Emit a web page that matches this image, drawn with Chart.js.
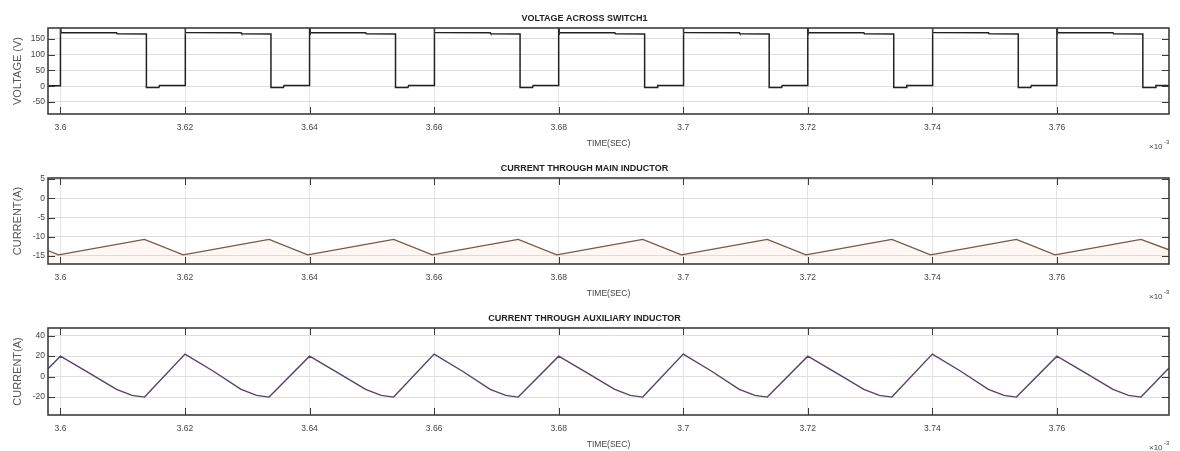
<!DOCTYPE html>
<html>
<head>
<meta charset="utf-8">
<script src="https://cdn.jsdelivr.net/npm/chart.js@4/dist/chart.umd.min.js"></script>
<style>
  html, body { margin: 0; padding: 0; background: #ffffff; }
  #wrap { position: relative; width: 1180px; height: 451px; background: #ffffff; }
  canvas { position: absolute; left: 0; }
</style>
</head>
<body>
<div id="wrap">
  <canvas id="c1" width="1180" height="150" style="top:0px"></canvas>
  <canvas id="c2" width="1180" height="150" style="top:150px"></canvas>
  <canvas id="c3" width="1180" height="151" style="top:300px"></canvas>
</div>
<script>
// ---------- data ----------
const xTickValues = [3.6, 3.62, 3.64, 3.66, 3.68, 3.7, 3.72, 3.74, 3.76];
const xTickLabels = ['3.6', '3.62', '3.64', '3.66', '3.68', '3.7', '3.72', '3.74', '3.76'];
const voltTicks = [-50, 0, 50, 100, 150];
const mainTicks = [-15, -10, -5, 0, 5];
const auxTicks = [-20, 0, 20, 40];

const voltTime = [3.598,
  3.6, 3.6, 3.6001, 3.609, 3.6091, 3.6138, 3.6138, 3.6158, 3.6159,
  3.62, 3.62, 3.6201, 3.629, 3.6291, 3.6338, 3.6338, 3.6358, 3.6359,
  3.64, 3.64, 3.6401, 3.649, 3.6491, 3.6538, 3.6538, 3.6558, 3.6559,
  3.66, 3.66, 3.6601, 3.669, 3.6691, 3.6738, 3.6738, 3.6758, 3.6759,
  3.68, 3.68, 3.6801, 3.689, 3.6891, 3.6938, 3.6938, 3.6958, 3.6959,
  3.7, 3.7, 3.7001, 3.709, 3.7091, 3.7138, 3.7138, 3.7158, 3.7159,
  3.72, 3.72, 3.7201, 3.729, 3.7291, 3.7338, 3.7338, 3.7358, 3.7359,
  3.74, 3.74, 3.7401, 3.749, 3.7491, 3.7538, 3.7538, 3.7558, 3.7559,
  3.76, 3.76, 3.7601, 3.769, 3.7691, 3.7738, 3.7738, 3.7758, 3.7759,
  3.778];
const voltValues = [1,
  1, 190, 170, 169, 166, 165, -4, -4, 2,
  2, 190, 170, 169, 166, 165, -4, -4, 2,
  2, 190, 170, 169, 166, 165, -4, -4, 2,
  2, 190, 170, 169, 166, 165, -4, -4, 2,
  2, 190, 170, 169, 166, 165, -4, -4, 2,
  2, 190, 170, 169, 166, 165, -4, -4, 2,
  2, 190, 170, 169, 166, 165, -4, -4, 2,
  2, 190, 170, 169, 166, 165, -4, -4, 2,
  2, 190, 170, 169, 166, 165, -4, -4, 2,
  2];

const mainTime = [3.598, 3.5997, 3.6135, 3.6197, 3.6335, 3.6397, 3.6535, 3.6597, 3.6735, 3.6797,
  3.6935, 3.6997, 3.7135, 3.7197, 3.7335, 3.7397, 3.7535, 3.7597, 3.7735, 3.778];
const mainValues = [-13.6, -14.7, -10.7, -14.7, -10.7, -14.7, -10.7, -14.7, -10.7, -14.7,
  -10.7, -14.7, -10.7, -14.7, -10.7, -14.7, -10.7, -14.7, -10.7, -13.4];

const auxTime = [3.598,
  3.6, 3.6045, 3.609, 3.6115, 3.6135,
  3.62, 3.6245, 3.629, 3.6315, 3.6335,
  3.64, 3.6445, 3.649, 3.6515, 3.6535,
  3.66, 3.6645, 3.669, 3.6715, 3.6735,
  3.68, 3.6845, 3.689, 3.6915, 3.6935,
  3.7, 3.7045, 3.709, 3.7115, 3.7135,
  3.72, 3.7245, 3.729, 3.7315, 3.7335,
  3.74, 3.7445, 3.749, 3.7515, 3.7535,
  3.76, 3.7645, 3.769, 3.7715, 3.7735,
  3.778];
const auxValues = [7.7,
  20, 4, -12.5, -18.3, -20,
  22, 5.5, -12.5, -18.3, -20,
  20, 4, -12.5, -18.3, -20,
  22, 5.5, -12.5, -18.3, -20,
  20, 4, -12.5, -18.3, -20,
  22, 5.5, -12.5, -18.3, -20,
  20, 4, -12.5, -18.3, -20,
  22, 5.5, -12.5, -18.3, -20,
  20, 4, -12.5, -18.3, -20,
  8.5];

// ---------- styling / helpers ----------
const FONT = "'Liberation Sans', Arial, sans-serif";
Chart.defaults.font.family = FONT;
Chart.defaults.color = '#333333';

const matlabBox = {
  id: 'matlabBox',
  afterDatasetsDraw(chart) {
    const { ctx, chartArea: { left, right, top, bottom }, scales: { x, y } } = chart;
    ctx.save();
    ctx.strokeStyle = '#3a3a3a';
    ctx.lineWidth = 1;
    ctx.beginPath();
    x.ticks.forEach(t => {
      const px = Math.round(x.getPixelForValue(t.value)) + 0.5;
      ctx.moveTo(px, bottom); ctx.lineTo(px, bottom - 7);
      ctx.moveTo(px, top); ctx.lineTo(px, top + 7);
    });
    y.ticks.forEach(t => {
      const py = Math.round(y.getPixelForValue(t.value)) + 0.5;
      ctx.moveTo(left, py); ctx.lineTo(left + 7, py);
      ctx.moveTo(right, py); ctx.lineTo(right - 7, py);
    });
    ctx.stroke();
    ctx.lineWidth = 1.6;
    ctx.strokeStyle = '#3c3c3c';
    ctx.strokeRect(left, top, right - left, bottom - top);
    // exponent label
    ctx.fillStyle = '#444444';
    ctx.textBaseline = 'middle';
    ctx.textAlign = 'left';
    ctx.font = '8px ' + FONT;
    ctx.fillText('\u00d710', 1149, bottom + 33);
    ctx.font = '6px ' + FONT;
    ctx.fillText('-3', 1164, bottom + 28);
    ctx.restore();
  }
};

function makeChart(id, title, yTitle, time, values, color, width, yMin, yMax, yTicks, fillColor) {
  const data = time.map((t, i) => ({ x: t, y: values[i] }));
  return new Chart(document.getElementById(id), {
    type: 'line',
    data: {
      datasets: [{
        data: data,
        borderColor: color,
        borderWidth: width,
        pointRadius: 0,
        tension: 0,
        fill: fillColor ? 'start' : false,
        backgroundColor: fillColor || 'transparent'
      }]
    },
    options: {
      responsive: false,
      animation: false,
      events: [],
      layout: { padding: { left: 0, right: 11, top: 0, bottom: 0 } },
      plugins: {
        legend: { display: false },
        tooltip: { enabled: false },
        title: {
          display: true,
          text: title,
          color: '#222222',
          font: { size: 9, weight: 'bold', lineHeight: 1.2 },
          padding: { top: 13.6, bottom: 3.6 }
        }
      },
      scales: {
        x: {
          type: 'linear',
          min: 3.598,
          max: 3.778,
          afterBuildTicks: (s) => { s.ticks = xTickValues.map(v => ({ value: v })); },
          afterFit: (s) => { s.height = 36; },
          ticks: {
            padding: 9,
            color: '#444444',
            font: { size: 8.5 },
            maxRotation: 0,
            autoSkip: false,
            callback: (v, i) => xTickLabels[i]
          },
          grid: { color: '#e4e4e4', lineWidth: 1, drawTicks: false },
          border: { display: false },
          title: {
            display: true,
            text: 'TIME(SEC)',
            color: '#444444',
            font: { size: 8.5, lineHeight: 1.2 },
            padding: { top: 0, bottom: 1 }
          }
        },
        y: {
          type: 'linear',
          min: yMin,
          max: yMax,
          afterBuildTicks: (s) => { s.ticks = yTicks.map(v => ({ value: v })); },
          afterFit: (s) => { s.width = 48; },
          ticks: {
            padding: 3,
            color: '#444444',
            font: { size: 8.5 },
            autoSkip: false,
            callback: (v) => String(v)
          },
          grid: { color: '#dedede', lineWidth: 1, drawTicks: false },
          border: { display: false },
          title: {
            display: true,
            text: yTitle,
            color: '#555555',
            font: { size: 11, lineHeight: 1.2 },
            padding: { top: 11.4, bottom: 0 }
          }
        }
      }
    },
    plugins: [matlabBox]
  });
}

makeChart('c1', 'VOLTAGE ACROSS SWITCH1', 'VOLTAGE (V)', voltTime, voltValues, '#222222', 1.5, -88, 184, voltTicks, null);
makeChart('c2', 'CURRENT THROUGH MAIN INDUCTOR', 'CURRENT(A)', mainTime, mainValues, '#7a5548', 1.3, -17.1, 5.3, mainTicks, 'rgba(250,200,170,0.14)');
makeChart('c3', 'CURRENT THROUGH AUXILIARY INDUCTOR', 'CURRENT(A)', auxTime, auxValues, '#5a4068', 1.4, -37.5, 47.5, auxTicks, null);
</script>
</body>
</html>
